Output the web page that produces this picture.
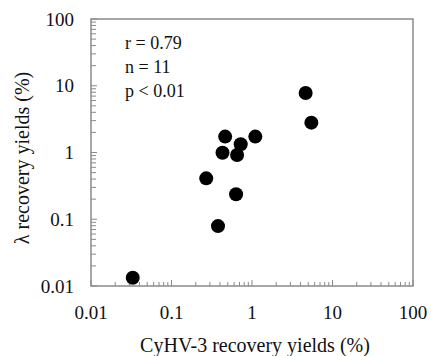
<!DOCTYPE html>
<html lang="en">
  <head>
    <meta charset="UTF-8" />
    <title>CyHV-3 vs lambda recovery yields</title>
    <script src="https://d3js.org/d3.v7.min.js"></script>
    <style>
      body {
        margin: 0;
        background: #fff;
      }
      svg text {
        font-family: "Liberation Serif", "DejaVu Serif", serif;
        fill: #111;
      }
      .frame {
        fill: none;
        stroke: #8a8a8a;
        stroke-width: 1.5px;
      }
      .tick-line {
        stroke: #8a8a8a;
        stroke-width: 1px;
      }
      .tick-label {
        font-size: 19px;
      }
      .axis-title {
        font-size: 20px;
      }
      .stats {
        font-size: 18px;
      }
    </style>
  </head>
  <body>
    <script>
      // CyHV-3 recovery yields (%) for each sample
      var cyhvYields = [0.033, 0.378, 0.27, 0.634, 0.43, 0.464, 0.653, 0.724, 1.1, 4.64, 5.46];
      // lambda recovery yields (%) for the same samples
      var lambdaYields = [0.0133, 0.079, 0.41, 0.237, 0.99, 1.73, 0.918, 1.33, 1.73, 7.8, 2.8];
      var tickValues = [0.01, 0.1, 1, 10, 100];
      var tickLabels = ["0.01", "0.1", "1", "10", "100"];
      var statsLines = ["r = 0.79", "n = 11", "p < 0.01"];

      var width = 431,
        height = 356;
      var margin = { top: 19, right: 18, bottom: 70, left: 91 };

      var svg = d3
        .select("body")
        .append("svg")
        .attr("width", width)
        .attr("height", height);

      var x = d3
        .scaleLog()
        .domain([0.01, 100])
        .range([margin.left, width - margin.right]);
      var y = d3
        .scaleLog()
        .domain([0.01, 100])
        .range([height - margin.bottom, margin.top]);

      // minor ticks: 2..9 in each decade
      var minor = [];
      for (var d = 0.01; d < 100; d *= 10) {
        for (var k = 2; k <= 9; k++) minor.push(d * k);
      }

      var x0 = x.range()[0],
        x1 = x.range()[1],
        y0 = y.range()[0],
        y1 = y.range()[1];

      // x ticks, drawn inside from the bottom edge
      svg
        .selectAll(".xminor")
        .data(minor)
        .enter()
        .append("line")
        .attr("class", "tick-line")
        .attr("x1", function (v) { return x(v); })
        .attr("x2", function (v) { return x(v); })
        .attr("y1", y0)
        .attr("y2", y0 - 4);
      svg
        .selectAll(".xmajor")
        .data(tickValues)
        .enter()
        .append("line")
        .attr("class", "tick-line")
        .attr("x1", function (v) { return x(v); })
        .attr("x2", function (v) { return x(v); })
        .attr("y1", y0)
        .attr("y2", y0 - 6);

      // y ticks, drawn inside from the left edge
      svg
        .selectAll(".yminor")
        .data(minor)
        .enter()
        .append("line")
        .attr("class", "tick-line")
        .attr("x1", x0)
        .attr("x2", x0 + 5)
        .attr("y1", function (v) { return y(v); })
        .attr("y2", function (v) { return y(v); });
      svg
        .selectAll(".ymajor")
        .data(tickValues)
        .enter()
        .append("line")
        .attr("class", "tick-line")
        .attr("x1", x0)
        .attr("x2", x0 + 6)
        .attr("y1", function (v) { return y(v); })
        .attr("y2", function (v) { return y(v); });

      // frame
      svg
        .append("rect")
        .attr("class", "frame")
        .attr("x", x0)
        .attr("y", y1)
        .attr("width", x1 - x0)
        .attr("height", y0 - y1);

      // tick labels
      svg
        .selectAll(".xlab")
        .data(tickValues)
        .enter()
        .append("text")
        .attr("class", "tick-label")
        .attr("x", function (v) { return x(v); })
        .attr("y", y0 + 33)
        .attr("text-anchor", "middle")
        .text(function (v, i) { return tickLabels[i]; });
      svg
        .selectAll(".ylab")
        .data(tickValues)
        .enter()
        .append("text")
        .attr("class", "tick-label")
        .attr("x", x0 - 17)
        .attr("y", function (v) { return y(v); })
        .attr("dy", "0.35em")
        .attr("text-anchor", "end")
        .text(function (v, i) { return tickLabels[i]; });

      // axis titles
      svg
        .append("text")
        .attr("class", "axis-title")
        .attr("x", 255)
        .attr("y", 352)
        .attr("text-anchor", "middle")
        .text("CyHV-3 recovery yields (%)");
      svg
        .append("text")
        .attr("class", "axis-title")
        .attr("transform", "translate(29,158) rotate(-90)")
        .attr("text-anchor", "middle")
        .text("λ recovery yields (%)");

      // statistics text
      svg
        .selectAll(".stats")
        .data(statsLines)
        .enter()
        .append("text")
        .attr("class", "stats")
        .attr("x", 125)
        .attr("y", function (s, i) { return 49 + i * 24; })
        .text(function (s) { return s; });

      // points
      svg
        .selectAll(".pt")
        .data(cyhvYields)
        .enter()
        .append("circle")
        .attr("cx", function (v) { return x(v); })
        .attr("cy", function (v, i) { return y(lambdaYields[i]); })
        .attr("r", 7)
        .attr("fill", "#000");
    </script>
  </body>
</html>
